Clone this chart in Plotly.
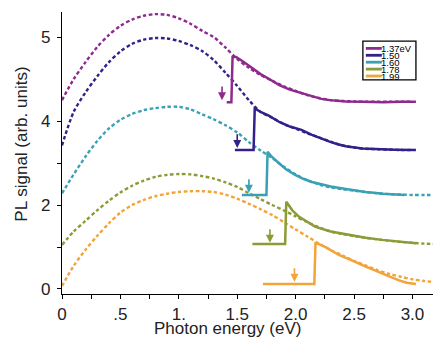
import plotly.graph_objects as go

# ---------------- data ----------------
series_names = ["1.37eV", "1.50", "1.60", "1.78", "1.99"]
excitation_ev = [1.37, 1.50, 1.60, 1.78, 1.99]
colors = ["#8E2A8E", "#34208A", "#3AA0B4", "#8C9B36", "#F2A33A"]

fit_energy = [round(0.1 * i, 1) for i in range(33)]  # 0.0 .. 3.2 eV

fit_137 = [4.50, 5.00, 5.40, 5.76, 6.05, 6.27, 6.42, 6.51, 6.55, 6.53, 6.45,
           6.32, 6.15, 6.00, 5.75, 5.48, 5.27, 5.10, 4.96, 4.83, 4.72, 4.62,
           4.55, 4.50, 4.48, 4.47, 4.46, 4.46, 4.46, 4.46, 4.46, None, None]
fit_150 = [3.42, 4.22, 4.68, 5.06, 5.40, 5.66, 5.84, 5.94, 5.98, 5.97, 5.91,
           5.81, 5.67, 5.45, 5.15, 4.84, 4.50, 4.22, 4.08, 3.93, 3.82, 3.71,
           3.61, 3.51, 3.42, 3.37, 3.34, 3.33, 3.32, 3.31, 3.31, None, None]
fit_160 = [2.28, 2.73, 3.15, 3.52, 3.82, 4.03, 4.17, 4.26, 4.31, 4.34, 4.34,
           4.28, 4.16, 4.04, 3.90, 3.73, 3.50, 3.30, 3.12, 2.91, 2.73, 2.59,
           2.49, 2.42, 2.38, 2.34, 2.31, 2.28, 2.26, 2.25, 2.24, 2.24, 2.24]
fit_178 = [1.05, 1.37, 1.62, 1.87, 2.10, 2.30, 2.46, 2.58, 2.67, 2.72, 2.74,
           2.73, 2.69, 2.63, 2.54, 2.43, 2.28, 2.14, 2.00, 1.87, 1.73, 1.59,
           1.47, 1.37, 1.31, 1.26, 1.22, 1.18, 1.15, 1.12, 1.10, 1.08, 1.07]
fit_199 = [0.07, 0.55, 0.93, 1.26, 1.56, 1.82, 2.00, 2.12, 2.21, 2.27, 2.31,
           2.33, 2.33, 2.31, 2.25, 2.15, 2.03, 1.90, 1.76, 1.59, 1.42, 1.25,
           1.08, 0.93, 0.80, 0.67, 0.56, 0.45, 0.36, 0.29, 0.23, 0.19, 0.16]

pl_e_137 = [1.41, 1.45, 1.46, 1.49, 1.55, 1.63, 1.70, 1.77, 1.86, 1.95, 2.05,
            2.14, 2.22, 2.29, 2.43, 2.57, 2.75, 2.90, 3.03]
pl_y_137 = [4.45, 4.45, 5.53, 5.53, 5.42, 5.25, 5.12, 5.01, 4.86, 4.75, 4.67,
            4.58, 4.53, 4.50, 4.47, 4.46, 4.45, 4.46, 4.46]
pl_e_150 = [1.48, 1.64, 1.65, 1.70, 1.77, 1.86, 1.95, 2.05, 2.14, 2.22, 2.29,
            2.36, 2.43, 2.57, 2.71, 2.85, 3.03]
pl_y_150 = [3.31, 3.31, 4.30, 4.22, 4.13, 3.98, 3.87, 3.79, 3.67, 3.58, 3.51,
            3.45, 3.40, 3.35, 3.33, 3.32, 3.31]
pl_e_160 = [1.54, 1.75, 1.76, 1.80, 1.86, 1.92, 2.00, 2.07, 2.14, 2.22, 2.30,
            2.43, 2.60, 2.75, 2.93]
pl_y_160 = [2.24, 2.24, 3.27, 3.14, 2.99, 2.85, 2.71, 2.62, 2.55, 2.49, 2.44,
            2.38, 2.31, 2.27, 2.24]
pl_e_178 = [1.63, 1.91, 1.92, 1.97, 2.03, 2.10, 2.17, 2.30, 2.46, 2.60, 2.74,
            2.88, 3.03]
pl_y_178 = [1.07, 1.07, 2.08, 1.88, 1.72, 1.60, 1.48, 1.37, 1.29, 1.22, 1.17,
            1.13, 1.09]
pl_e_199 = [1.72, 2.16, 2.17, 2.20, 2.26, 2.37, 2.50, 2.60, 2.74, 2.88, 2.95,
            3.03]
pl_y_199 = [0.12, 0.12, 1.09, 1.07, 0.99, 0.81, 0.66, 0.53, 0.37, 0.21, 0.15,
            0.12]

arrow_tip = [4.50, 3.36, 2.29, 1.10, 0.17]
arrow_len = 0.36

x_tickvals = [0, 0.5, 1.0, 1.5, 2.0, 2.5, 3.0]
x_ticktext = ["0", ".5", "1.", "1.5", "2.0", "2.5", "3.0"]
y_tickvals = [0, 2, 4, 6]
y_ticktext = ["0", "2", "4", "5"]

fits = [fit_137, fit_150, fit_160, fit_178, fit_199]
pl_e = [pl_e_137, pl_e_150, pl_e_160, pl_e_178, pl_e_199]
pl_y = [pl_y_137, pl_y_150, pl_y_160, pl_y_178, pl_y_199]

FONT = "Arial, Liberation Sans, Helvetica, sans-serif"

fig = go.Figure()
for name, c, f in zip(series_names, colors, fits):
    fig.add_trace(go.Scatter(x=fit_energy, y=f, mode="lines", name=name + " fit",
                             line=dict(color=c, width=2.4, dash="3.5px,2.5px",
                                       shape="spline", smoothing=0.8),
                             connectgaps=False, showlegend=False))
for name, c, e, y in zip(series_names, colors, pl_e, pl_y):
    fig.add_trace(go.Scatter(x=e, y=y, mode="lines", name=name,
                             line=dict(color=c, width=2.5), showlegend=False))

# excitation arrows
for c, ex, tip in zip(colors, excitation_ev, arrow_tip):
    fig.add_annotation(x=ex, y=tip, ax=ex, ay=tip + arrow_len, axref="x", ayref="y",
                       xref="x", yref="y", text="", showarrow=True,
                       arrowhead=2, arrowsize=1, arrowwidth=1.6, arrowcolor=c)

# manual compact legend
lx0, lx1, ly_top, ly_bot = 0.811, 0.954, 0.897, 0.759
fig.add_shape(type="rect", xref="paper", yref="paper", x0=lx0, x1=lx1, y0=ly_bot, y1=ly_top,
              line=dict(color="black", width=1.3), fillcolor="white", layer="above")
row_top, row_step = 0.871, 0.0245
for i, (name, c) in enumerate(zip(series_names, colors)):
    yy = row_top - i * row_step
    fig.add_shape(type="line", xref="paper", yref="paper", x0=0.819, x1=0.862,
                  y0=yy, y1=yy, line=dict(color=c, width=2.8), layer="above")
    fig.add_annotation(xref="paper", yref="paper", x=0.858, y=yy, text=name,
                       showarrow=False, xanchor="left", yanchor="middle",
                       borderpad=0,
                       font=dict(family=FONT, size=9.5, color="black"))

# axis titles
fig.add_annotation(xref="paper", yref="paper", x=0.447, y=-0.124, text="Photon energy (eV)",
                   showarrow=False, xanchor="center", yanchor="middle",
                   font=dict(family=FONT, size=17, color="#222"))
fig.add_annotation(xref="paper", yref="paper", x=-0.1086, y=0.532, text="PL signal (arb. units)",
                   showarrow=False, textangle=-90, xanchor="center", yanchor="middle",
                   font=dict(family=FONT, size=17, color="#222"))

fig.update_layout(
    width=433, height=339,
    margin=dict(l=62, r=0, t=12, b=45),
    paper_bgcolor="white", plot_bgcolor="white",
    showlegend=False,
    font=dict(family=FONT, size=17, color="#222"),
    xaxis=dict(range=[0, 3.176], showgrid=False, zeroline=False, showline=True,
               linecolor="black", linewidth=1.3, ticks="outside", ticklen=4,
               tickwidth=1.2, tickcolor="black", tickvals=x_tickvals, ticktext=x_ticktext,
               minor=dict(tickvals=[0.25, 0.75, 1.25, 1.75, 2.25, 2.75], ticks="outside",
                          ticklen=4, tickwidth=1.2, tickcolor="black"),
               tickfont=dict(family=FONT, size=17, color="#222"), automargin=False),
    yaxis=dict(range=[-0.12, 6.6], showgrid=False, zeroline=False, showline=True,
               linecolor="black", linewidth=1.3, ticks="outside", ticklen=4,
               tickwidth=1.2, tickcolor="black", tickvals=y_tickvals, ticktext=y_ticktext,
               minor=dict(tickvals=[1, 3], ticks="outside", ticklen=4, tickwidth=1.2,
                          tickcolor="black"),
               ticklabelstandoff=3,
               tickfont=dict(family=FONT, size=17, color="#222"), automargin=False),
)

fig.write_html("out.html", config={"displayModeBar": False},
               post_script="document.body.style.margin='0';document.body.style.padding='0';")
